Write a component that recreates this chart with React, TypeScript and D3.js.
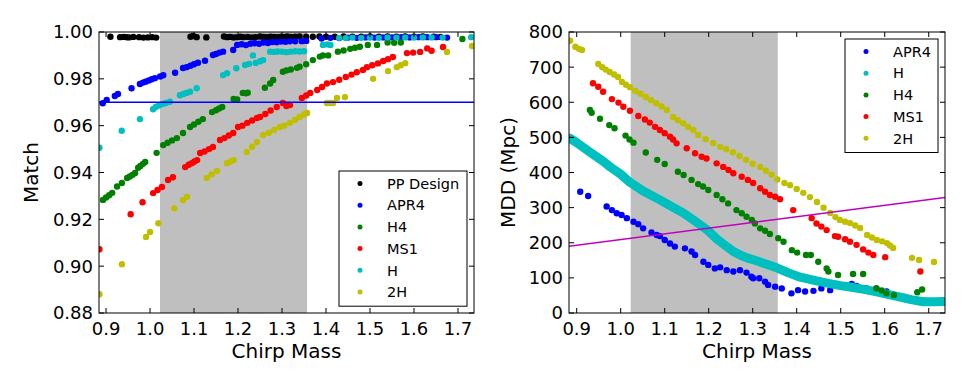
import * as d3 from "d3";

// ---- data: left panel (Match vs chirp mass) ----
const ppDesign: [number, number][] = [
  [0.91, 0.998], [0.932, 0.9978], [0.94, 0.9979], [0.946, 0.9978], [0.952, 0.9977], [0.962, 0.9979],
  [0.975, 0.9978], [0.985, 0.9976], [0.995, 0.9977], [1.005, 0.9978], [1.014, 0.9976], [1.092, 0.998],
  [1.098, 0.9983], [1.106, 0.9978], [1.128, 0.9977], [1.168, 0.9981], [1.175, 0.9978], [1.182, 0.9979],
  [1.19, 0.9977], [1.198, 0.9978], [1.205, 0.998], [1.212, 0.9978], [1.222, 0.9979], [1.232, 0.9977],
  [1.24, 0.9978], [1.25, 0.9981], [1.258, 0.9979], [1.266, 0.9978], [1.274, 0.998], [1.282, 0.9979],
  [1.29, 0.9978], [1.298, 0.998], [1.305, 0.9979], [1.312, 0.9981], [1.32, 0.9979], [1.33, 0.998],
  [1.34, 0.9981], [1.355, 0.998], [1.37, 0.998], [1.385, 0.9981], [1.4, 0.998], [1.42, 0.998],
  [1.44, 0.9981], [1.46, 0.998], [1.48, 0.998], [1.5, 0.9981], [1.52, 0.998], [1.54, 0.9981],
  [1.56, 0.998], [1.58, 0.9981], [1.6, 0.998], [1.62, 0.9981], [1.645, 0.998], [1.66, 0.9979],
];
const matchApr4: [number, number][] = [
  [0.8925, 0.9696], [0.9015, 0.971], [0.92, 0.9727], [0.927, 0.9735], [0.958, 0.976], [0.977, 0.9778],
  [0.984, 0.9784], [0.99, 0.9788], [0.997, 0.9793], [1.004, 0.9798], [1.011, 0.9803], [1.023, 0.981],
  [1.03, 0.9815], [1.057, 0.9826], [1.075, 0.9846], [1.083, 0.985], [1.092, 0.9856], [1.1, 0.9862],
  [1.109, 0.9869], [1.125, 0.9877], [1.143, 0.9902], [1.15, 0.9906], [1.158, 0.9912], [1.166, 0.9916],
  [1.189, 0.9923], [1.198, 0.9945], [1.208, 0.9948], [1.218, 0.9944], [1.228, 0.995], [1.238, 0.9952],
  [1.248, 0.995], [1.258, 0.9955], [1.268, 0.9953], [1.278, 0.9957], [1.288, 0.9956], [1.298, 0.9959],
  [1.308, 0.9958], [1.318, 0.996], [1.33, 0.996], [1.345, 0.9961], [1.355, 0.9962], [1.39, 0.9972],
  [1.41, 0.9975], [1.43, 0.9974], [1.45, 0.9976], [1.47, 0.9975], [1.49, 0.9977], [1.51, 0.9976],
  [1.53, 0.9977], [1.55, 0.9977], [1.57, 0.9978], [1.59, 0.9977], [1.61, 0.9978], [1.63, 0.9978],
  [1.65, 0.9978], [1.675, 0.9976],
];
const matchH4: [number, number][] = [
  [0.893, 0.9283], [0.9, 0.9293], [0.907, 0.9303], [0.914, 0.9313], [0.925, 0.934], [0.936, 0.9355],
  [0.948, 0.9377], [0.954, 0.9383], [0.96, 0.939], [0.966, 0.9398], [0.973, 0.942], [0.978, 0.9428],
  [0.984, 0.9437], [0.989, 0.9445], [1.015, 0.9484], [1.03, 0.9517], [1.04, 0.9527], [1.05, 0.9537],
  [1.061, 0.9547], [1.075, 0.9569], [1.091, 0.9594], [1.1, 0.9605], [1.11, 0.9617], [1.12, 0.9628],
  [1.141, 0.9658], [1.15, 0.9666], [1.157, 0.9673], [1.164, 0.968], [1.19, 0.9714], [1.198, 0.9712],
  [1.211, 0.974], [1.218, 0.9738], [1.222, 0.9741], [1.261, 0.9762], [1.273, 0.978], [1.28, 0.9795],
  [1.302, 0.983], [1.31, 0.9836], [1.32, 0.984], [1.334, 0.9847], [1.34, 0.9852], [1.355, 0.9862],
  [1.37, 0.988], [1.386, 0.9895], [1.393, 0.99], [1.405, 0.99], [1.427, 0.9916], [1.44, 0.9921],
  [1.455, 0.9928], [1.466, 0.9933], [1.477, 0.9937], [1.495, 0.9945], [1.516, 0.9945], [1.54, 0.9955],
  [1.555, 0.9954], [1.57, 0.9955], [1.71, 0.997],
];
const matchMs1: [number, number][] = [
  [0.885, 0.9072], [0.956, 0.9222], [0.983, 0.9273], [1.007, 0.9312], [1.017, 0.9325], [1.027, 0.9338],
  [1.041, 0.9368], [1.052, 0.938], [1.08, 0.9423], [1.088, 0.9433], [1.095, 0.944], [1.101, 0.9447],
  [1.107, 0.9453], [1.114, 0.9483], [1.124, 0.949], [1.134, 0.95], [1.143, 0.9509], [1.159, 0.9539],
  [1.169, 0.9547], [1.179, 0.9558], [1.189, 0.9569], [1.2, 0.9594], [1.21, 0.96], [1.221, 0.9612],
  [1.232, 0.9622], [1.243, 0.9633], [1.25, 0.9637], [1.262, 0.965], [1.274, 0.9665], [1.288, 0.968],
  [1.302, 0.9697], [1.31, 0.9684], [1.318, 0.9688], [1.345, 0.9718], [1.355, 0.9729], [1.364, 0.974],
  [1.38, 0.9752], [1.391, 0.9765], [1.402, 0.978], [1.416, 0.9786], [1.43, 0.9796], [1.445, 0.9808],
  [1.458, 0.9818], [1.47, 0.9828], [1.484, 0.9838], [1.493, 0.985], [1.505, 0.9858], [1.518, 0.9866],
  [1.53, 0.9876], [1.541, 0.9884], [1.552, 0.9893], [1.584, 0.991], [1.598, 0.9912], [1.614, 0.9915],
  [1.63, 0.993], [1.64, 0.992], [1.666, 0.9936],
];
const matchH: [number, number][] = [
  [0.885, 0.9506], [0.9356, 0.9578], [0.977, 0.9628], [1.007, 0.967], [1.013, 0.968], [1.02, 0.9686],
  [1.028, 0.9692], [1.036, 0.9697], [1.045, 0.9702], [1.068, 0.973], [1.076, 0.9735], [1.083, 0.974],
  [1.091, 0.9745], [1.106, 0.976], [1.166, 0.9816], [1.175, 0.9824], [1.196, 0.9845], [1.216, 0.9859],
  [1.225, 0.9864], [1.234, 0.99], [1.24, 0.9868], [1.25, 0.9875], [1.257, 0.988], [1.273, 0.9916],
  [1.282, 0.9915], [1.29, 0.9917], [1.3, 0.9916], [1.31, 0.9914], [1.32, 0.9916], [1.33, 0.9918],
  [1.34, 0.9917], [1.35, 0.9918], [1.393, 0.9945], [1.403, 0.9947], [1.41, 0.9945], [1.43, 0.9975],
  [1.445, 0.9974], [1.46, 0.9976], [1.48, 0.9975], [1.5, 0.9976], [1.52, 0.9975], [1.54, 0.9977],
  [1.56, 0.9976], [1.58, 0.9977], [1.6, 0.9976], [1.62, 0.9977], [1.64, 0.9977], [1.665, 0.9976],
  [1.73, 0.9978],
];
const match2H: [number, number][] = [
  [0.885, 0.888], [0.936, 0.9008], [0.991, 0.9125], [1.0, 0.9146], [1.019, 0.9183], [1.055, 0.9247],
  [1.075, 0.9282], [1.084, 0.9296], [1.129, 0.9377], [1.14, 0.9392], [1.152, 0.9407], [1.175, 0.944],
  [1.183, 0.9447], [1.19, 0.9453], [1.22, 0.9488], [1.232, 0.951], [1.243, 0.953], [1.257, 0.956],
  [1.27, 0.957], [1.282, 0.9582], [1.295, 0.9594], [1.305, 0.96], [1.318, 0.9612], [1.33, 0.9625],
  [1.34, 0.9637], [1.35, 0.9648], [1.357, 0.9654], [1.402, 0.9697], [1.409, 0.9697], [1.416, 0.9697],
  [1.425, 0.9718], [1.443, 0.9722], [1.507, 0.98], [1.541, 0.9833], [1.561, 0.985], [1.57, 0.9858],
  [1.58, 0.9867], [1.675, 0.9915], [1.732, 0.994],
];
const matchThreshold = 0.97;

// ---- data: right panel (MDD vs chirp mass) ----
const mddApr4: [number, number][] = [
  [0.908, 345], [0.926, 333], [0.968, 303], [0.98, 293], [0.991, 284], [1.002, 279], [1.014, 270],
  [1.029, 260], [1.04, 253], [1.051, 241], [1.07, 229], [1.082, 222], [1.089, 219], [1.1, 208],
  [1.112, 198], [1.123, 189], [1.146, 184], [1.161, 175], [1.169, 165], [1.188, 146], [1.199, 137],
  [1.214, 127], [1.226, 130], [1.241, 122], [1.256, 118], [1.271, 122], [1.286, 115], [1.297, 103],
  [1.301, 99], [1.315, 99], [1.328, 89], [1.335, 80], [1.351, 75], [1.366, 70], [1.388, 56],
  [1.403, 65], [1.419, 61], [1.438, 63], [1.456, 70], [1.476, 65], [1.525, 83], [1.536, 77],
  [1.559, 70], [1.581, 70], [1.604, 61], [1.627, 51], [1.646, 46], [1.691, 35], [1.733, 29],
];
const mddH: [number, number][] = [
  [0.884, 498], [0.9, 485], [0.93, 458], [0.96, 432], [0.976, 416], [1.0, 395], [1.021, 372],
  [1.05, 348], [1.089, 322], [1.12, 300], [1.142, 285], [1.165, 265], [1.187, 245], [1.2, 233],
  [1.219, 210], [1.24, 190], [1.255, 176], [1.275, 163], [1.287, 157], [1.305, 150], [1.317, 145],
  [1.34, 135], [1.356, 128], [1.38, 115], [1.408, 102], [1.44, 93], [1.469, 85], [1.5, 78],
  [1.521, 74], [1.55, 68], [1.582, 60], [1.61, 52], [1.635, 45], [1.66, 38], [1.688, 32],
  [1.71, 32], [1.733, 33],
];
const mddH4: [number, number][] = [
  [0.93, 578], [0.934, 570], [0.953, 553], [0.974, 535], [0.986, 526], [1.011, 505], [1.02, 494],
  [1.029, 485], [1.057, 457], [1.083, 436], [1.1, 424], [1.13, 402], [1.143, 393], [1.161, 379],
  [1.176, 367], [1.187, 360], [1.199, 350], [1.218, 336], [1.231, 324], [1.244, 312], [1.263, 293],
  [1.275, 284], [1.286, 274], [1.298, 265], [1.305, 255], [1.317, 241], [1.328, 234], [1.339, 225],
  [1.358, 213], [1.37, 203], [1.389, 179], [1.401, 172], [1.421, 165], [1.432, 165], [1.449, 146],
  [1.468, 127], [1.472, 118], [1.494, 108], [1.528, 111], [1.551, 111], [1.581, 70], [1.593, 64],
  [1.604, 56], [1.621, 51], [1.674, 59], [1.685, 67],
];
const mddMs1: [number, number][] = [
  [0.937, 654], [0.949, 644], [0.96, 630], [0.98, 609], [0.995, 599], [1.006, 587], [1.021, 576],
  [1.04, 561], [1.055, 551], [1.066, 542], [1.078, 530], [1.089, 521], [1.1, 512], [1.112, 502],
  [1.119, 494], [1.127, 483], [1.15, 469], [1.169, 455], [1.184, 445], [1.195, 440], [1.218, 426],
  [1.233, 416], [1.245, 407], [1.256, 398], [1.275, 388], [1.289, 379], [1.301, 370], [1.317, 355],
  [1.328, 345], [1.339, 336], [1.351, 331], [1.362, 324], [1.392, 293], [1.434, 270], [1.445, 255],
  [1.456, 246], [1.468, 236], [1.487, 219], [1.494, 217], [1.51, 210], [1.521, 203], [1.536, 194],
  [1.551, 181], [1.563, 172], [1.574, 165], [1.601, 159], [1.681, 118],
];
const mdd2H: [number, number][] = [
  [0.885, 775], [0.897, 758], [0.905, 752], [0.912, 749], [0.949, 709], [0.958, 700], [0.966, 693],
  [0.975, 686], [0.985, 679], [0.994, 672], [1.003, 658], [1.012, 650], [1.021, 643], [1.033, 632],
  [1.045, 624], [1.057, 615], [1.069, 606], [1.081, 597], [1.093, 588], [1.105, 578], [1.119, 558],
  [1.13, 549], [1.142, 540], [1.153, 530], [1.165, 521], [1.176, 507], [1.193, 495], [1.21, 484],
  [1.226, 473], [1.24, 466], [1.255, 458], [1.27, 447], [1.285, 436], [1.3, 425], [1.317, 416],
  [1.33, 405], [1.343, 394], [1.356, 380], [1.372, 370], [1.385, 364], [1.4, 353], [1.415, 342],
  [1.43, 330], [1.446, 316], [1.461, 300], [1.476, 285], [1.488, 273], [1.498, 265], [1.51, 260],
  [1.521, 256], [1.533, 249], [1.544, 242], [1.56, 222], [1.571, 215], [1.582, 208], [1.594, 204],
  [1.605, 199], [1.612, 192], [1.619, 185], [1.662, 157], [1.678, 151], [1.712, 145],
];
const horizonLine: [number, number][] = [[0.882, 190], [1.737, 329]];

const massTicks = [0.9, 1.0, 1.1, 1.2, 1.3, 1.4, 1.5, 1.6, 1.7];
const matchTicks = [0.88, 0.9, 0.92, 0.94, 0.96, 0.98, 1.0];
const mddTicks = [0, 100, 200, 300, 400, 500, 600, 700, 800];
const bandRange = [1.0227, 1.357];

const FONT = "DejaVu Sans, sans-serif";

type Series = { name: string; color: string; pts: [number, number][]; band?: boolean };

type PanelProps = {
  id: string;
  left: number;
  right: number;
  xDomain: [number, number];
  yDomain: [number, number];
  yTicks: number[];
  yFmt: (v: number) => string;
  yLabel: string;
  yLabelX: number;
  series: Series[];
  refLine: [number, number][];
  refColor: string;
  legend: { x: number; y: number; w: number };
};

const TOP = 32;
const BOTTOM = 313;

function Panel(p: PanelProps) {
  const x = d3.scaleLinear().domain(p.xDomain).range([p.left, p.right]);
  const y = d3.scaleLinear().domain(p.yDomain).range([BOTTOM, TOP]);
  const line = d3
    .line<[number, number]>()
    .x((d) => x(d[0]))
    .y((d) => y(d[1]));
  const rowH = 21.7;
  const legH = p.series.length * rowH + 5;

  return (
    <g>
      <defs>
        <clipPath id={p.id}>
          <rect x={p.left} y={TOP} width={p.right - p.left} height={BOTTOM - TOP} />
        </clipPath>
      </defs>
      <g clipPath={`url(#${p.id})`}>
        <rect
          x={x(bandRange[0])}
          y={TOP}
          width={x(bandRange[1]) - x(bandRange[0])}
          height={BOTTOM - TOP}
          fill="#bfbfbf"
        />
        {p.series.map((s) =>
          s.band ? (
            <path
              key={s.name}
              d={line(s.pts) || ""}
              fill="none"
              stroke={s.color}
              strokeWidth={9}
              strokeLinecap="round"
              strokeLinejoin="round"
            />
          ) : (
            <g key={s.name} fill={s.color}>
              {s.pts.map((d, i) => (
                <circle key={i} cx={x(d[0])} cy={y(d[1])} r={3.2} />
              ))}
            </g>
          )
        )}
        <path d={line(p.refLine) || ""} fill="none" stroke={p.refColor} strokeWidth={1.5} />
      </g>

      {/* frame and inward ticks */}
      <rect x={p.left} y={TOP} width={p.right - p.left} height={BOTTOM - TOP} fill="none" stroke="#000" strokeWidth={1} />
      {massTicks.map((t) => (
        <g key={t}>
          <line x1={x(t)} x2={x(t)} y1={BOTTOM} y2={BOTTOM - 5} stroke="#000" />
          <line x1={x(t)} x2={x(t)} y1={TOP} y2={TOP + 5} stroke="#000" />
          <text x={x(t)} y={BOTTOM + 22} textAnchor="middle" fontSize={18} fontFamily={FONT}>
            {d3.format(".1f")(t)}
          </text>
        </g>
      ))}
      {p.yTicks.map((t) => (
        <g key={t}>
          <line x1={p.left} x2={p.left + 5} y1={y(t)} y2={y(t)} stroke="#000" />
          <line x1={p.right} x2={p.right - 5} y1={y(t)} y2={y(t)} stroke="#000" />
          <text x={p.left - 6} y={y(t)} dy="0.36em" textAnchor="end" fontSize={18} fontFamily={FONT}>
            {p.yFmt(t)}
          </text>
        </g>
      ))}
      <text x={(p.left + p.right) / 2} y={358} textAnchor="middle" fontSize={20} fontFamily={FONT}>
        Chirp Mass
      </text>
      <text
        transform={`translate(${p.yLabelX},${(TOP + BOTTOM) / 2}) rotate(-90)`}
        textAnchor="middle"
        fontSize={20}
        fontFamily={FONT}
      >
        {p.yLabel}
      </text>

      {/* legend */}
      <g transform={`translate(${p.legend.x},${p.legend.y})`}>
        <rect x={0} y={0} width={p.legend.w} height={legH} fill="#fff" stroke="#000" strokeWidth={1} />
        {p.series.map((s, i) => (
          <g key={s.name} transform={`translate(0,${12.5 + i * rowH})`}>
            <circle cx={21} cy={0} r={2.5} fill={s.color} />
            <text x={48} y={0} dy="0.36em" fontSize={14.5} fontFamily={FONT}>
              {s.name}
            </text>
          </g>
        ))}
      </g>
    </g>
  );
}

export default function App() {
  const leftSeries: Series[] = [
    { name: "PP Design", color: "#000000", pts: ppDesign },
    { name: "APR4", color: "#0000ff", pts: matchApr4 },
    { name: "H4", color: "#008000", pts: matchH4 },
    { name: "MS1", color: "#ff0000", pts: matchMs1 },
    { name: "H", color: "#00bfbf", pts: matchH },
    { name: "2H", color: "#bfbf00", pts: match2H },
  ];
  const rightSeries: Series[] = [
    { name: "APR4", color: "#0000ff", pts: mddApr4 },
    { name: "H", color: "#00bfbf", pts: mddH, band: true },
    { name: "H4", color: "#008000", pts: mddH4 },
    { name: "MS1", color: "#ff0000", pts: mddMs1 },
    { name: "2H", color: "#bfbf00", pts: mdd2H },
  ];
  const thresholdLine: [number, number][] = [
    [0.8, matchThreshold],
    [1.8, matchThreshold],
  ];

  return (
    <svg width={969} height={388} style={{ position: "absolute", left: 0, top: 0, background: "#fff" }}>
      <Panel
        id="clipL"
        left={99}
        right={474}
        xDomain={[0.884, 1.7364]}
        yDomain={[0.88, 1.0]}
        yTicks={matchTicks}
        yFmt={d3.format(".2f")}
        yLabel="Match"
        yLabelX={38}
        series={leftSeries}
        refLine={thresholdLine}
        refColor="#0000ff"
        legend={{ x: 339, y: 171, w: 128 }}
      />
      <Panel
        id="clipR"
        left={569}
        right={945}
        xDomain={[0.8825, 1.737]}
        yDomain={[0, 800]}
        yTicks={mddTicks}
        yFmt={d3.format("d")}
        yLabel="MDD (Mpc)"
        yLabelX={515}
        series={rightSeries}
        refLine={horizonLine}
        refColor="#bf00bf"
        legend={{ x: 845, y: 39, w: 93 }}
      />
    </svg>
  );
}
